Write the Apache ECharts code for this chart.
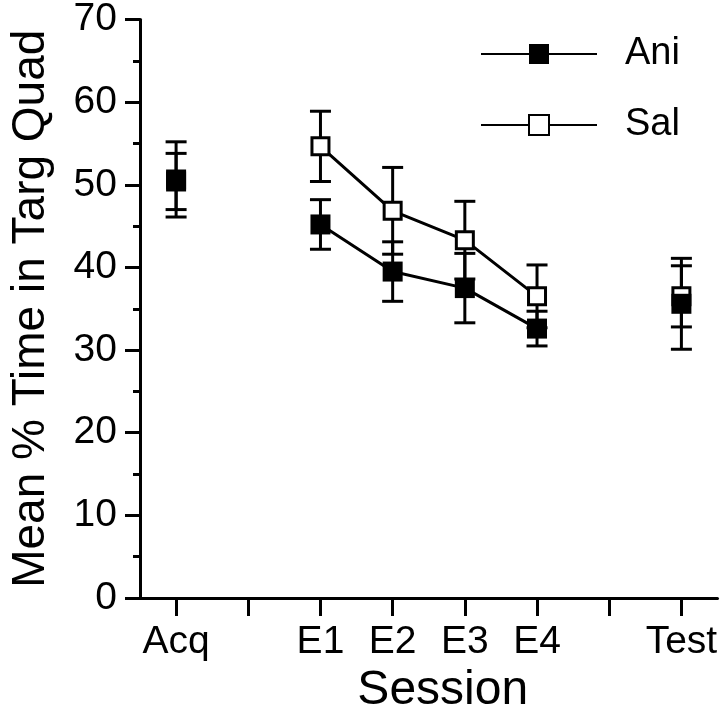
<!DOCTYPE html>
<html>
<head>
<meta charset="utf-8">
<script src="https://cdn.jsdelivr.net/npm/echarts@6/dist/echarts.min.js"></script>
<style>
html,body{margin:0;padding:0;background:#fff;}
#chart{width:720px;height:720px;}
</style>
</head>
<body>
<div id="chart"></div>
<script>
var categories = ['Acq', '', 'E1', 'E2', 'E3', 'E4', '', 'Test'];
var aniMean = [50.4, null, 45.2, 39.5, 37.5, 32.6, null, 35.6];
var aniErr  = [3.4, null, 3.0, 3.6, 4.2, 2.1, null, 5.5];
var salMean = [50.65, null, 54.65, 46.85, 43.3, 36.5, null, 36.5];
var salErr  = [4.55, null, 4.25, 5.25, 4.7, 3.8, null, 3.7];
var yTicks = [0, 10, 20, 30, 40, 50, 60, 70];

function errData(mean, err) {
  var out = [];
  for (var i = 0; i < mean.length; i++) {
    if (mean[i] != null) out.push([i, mean[i] - err[i], mean[i] + err[i]]);
  }
  return out;
}

function renderErr(params, api) {
  var x = api.value(0);
  var lo = api.coord([x, api.value(1)]);
  var hi = api.coord([x, api.value(2)]);
  var half = 10.5;
  var style = {stroke: '#000', lineWidth: 3, fill: null};
  return {
    type: 'group',
    children: [
      {type: 'line', shape: {x1: lo[0], y1: lo[1], x2: hi[0], y2: hi[1]}, style: style},
      {type: 'line', shape: {x1: lo[0] - half, y1: lo[1], x2: lo[0] + half, y2: lo[1]}, style: style},
      {type: 'line', shape: {x1: hi[0] - half, y1: hi[1], x2: hi[0] + half, y2: hi[1]}, style: style}
    ]
  };
}

var chart = echarts.init(document.getElementById('chart'), null, {renderer: 'canvas'});
var FONT = '"Liberation Sans", Arial, Helvetica, sans-serif';
chart.setOption({
  animation: false,
  backgroundColor: '#fff',
  textStyle: {fontFamily: FONT, color: '#000'},
  grid: {left: 138, right: 2, top: 18, bottom: 122, containLabel: false},
  legend: {
    orient: 'vertical',
    left: 475,
    top: 30,
    itemWidth: 116,
    itemHeight: 25,
    itemGap: 33,
    selectedMode: false,
    textStyle: {fontFamily: FONT, fontSize: 38, color: '#000', padding: [0, 0, 12, 23]},
    data: ['Ani', 'Sal']
  },
  xAxis: {
    type: 'category',
    data: categories,
    boundaryGap: true,
    axisLine: {lineStyle: {color: '#000', width: 3}},
    axisTick: {show: true, alignWithLabel: true, interval: 0, length: 18, lineStyle: {color: '#000', width: 3}},
    axisLabel: {interval: 0, fontSize: 39, color: '#000', margin: 25, fontFamily: FONT},
    splitLine: {show: false},
    name: 'Session',
    nameLocation: 'middle',
    nameGap: 68,
    nameTextStyle: {fontSize: 48, color: '#000', fontFamily: FONT, padding: [0, 0, 0, 28]}
  },
  yAxis: {
    type: 'value',
    min: yTicks[0],
    max: yTicks[yTicks.length - 1],
    interval: 10,
    axisLine: {show: true, lineStyle: {color: '#000', width: 3}},
    axisTick: {show: true, length: 15, lineStyle: {color: '#000', width: 3}},
    minorTick: {show: true, splitNumber: 2, length: 7, lineStyle: {color: '#000', width: 3}},
    axisLabel: {fontSize: 39, color: '#000', margin: 23, fontFamily: FONT},
    splitLine: {show: false},
    name: 'Mean % Time in Targ Quad',
    nameLocation: 'middle',
    nameGap: 86,
    nameTextStyle: {fontSize: 46, color: '#000', fontFamily: FONT}
  },
  series: [
    {
      type: 'custom', name: 'SalErr', z: 1,
      renderItem: renderErr, data: errData(salMean, salErr), silent: true
    },
    {
      type: 'custom', name: 'AniErr', z: 1,
      renderItem: renderErr, data: errData(aniMean, aniErr), silent: true
    },
    {
      type: 'line', name: 'Sal', z: 2,
      data: salMean, connectNulls: false,
      symbol: 'rect', symbolSize: 17, showSymbol: true, showAllSymbol: true,
      lineStyle: {color: '#000', width: 3},
      itemStyle: {color: '#fff', borderColor: '#000', borderWidth: 3},
      emphasis: {disabled: true}
    },
    {
      type: 'line', name: 'Ani', z: 3,
      data: aniMean, connectNulls: false,
      symbol: 'rect', symbolSize: 20, showSymbol: true, showAllSymbol: true,
      lineStyle: {color: '#000', width: 3},
      itemStyle: {color: '#000', borderColor: '#000', borderWidth: 0},
      emphasis: {disabled: true}
    }
  ]
});
</script>
</body>
</html>
